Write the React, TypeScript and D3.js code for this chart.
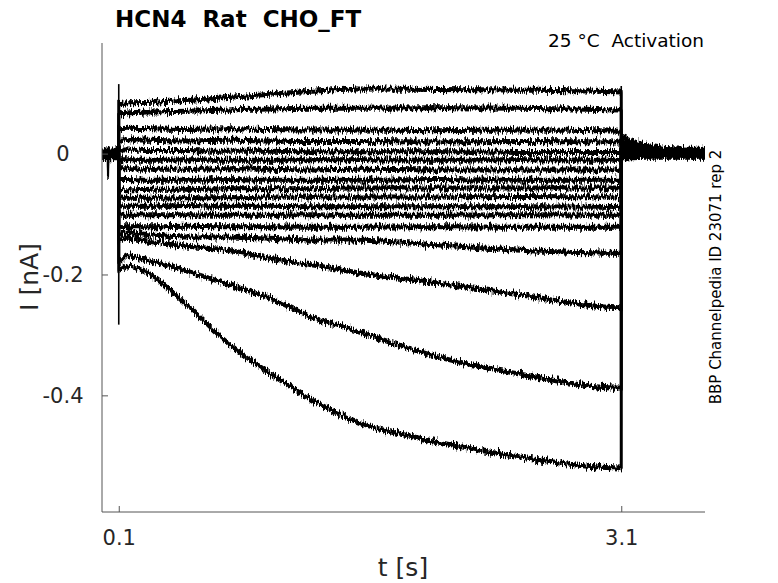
import React, { useEffect, useRef } from 'react';
import * as d3 from 'd3';

const pulseTimes = [0.1, 0.15, 0.3, 0.5, 0.75, 1.0, 1.25, 1.5, 2.0, 2.5, 3.1];

// currents (nA) during the 3 s activation step, top trace first
const pulseCurrents = [
  [0.082, 0.084, 0.085, 0.088, 0.093, 0.098, 0.103, 0.107, 0.106, 0.105, 0.102],
  [0.065, 0.067, 0.069, 0.070, 0.072, 0.074, 0.075, 0.075, 0.076, 0.075, 0.072],
  [0.041, 0.042, 0.041, 0.040, 0.041, 0.040, 0.039, 0.039, 0.038, 0.039, 0.037],
  [0.022, 0.023, 0.022, 0.021, 0.022, 0.021, 0.020, 0.020, 0.019, 0.020, 0.019],
  [0.006, 0.006, 0.005, 0.005, 0.004, 0.004, 0.003, 0.003, 0.003, 0.002, 0.002],
  [-0.010, -0.010, -0.011, -0.010, -0.011, -0.011, -0.010, -0.010, -0.011, -0.010, -0.011],
  [-0.025, -0.025, -0.026, -0.026, -0.025, -0.026, -0.027, -0.026, -0.027, -0.027, -0.027],
  [-0.043, -0.043, -0.044, -0.044, -0.043, -0.044, -0.044, -0.044, -0.043, -0.044, -0.044],
  [-0.060, -0.060, -0.059, -0.059, -0.058, -0.058, -0.058, -0.057, -0.057, -0.057, -0.057],
  [-0.073, -0.074, -0.074, -0.073, -0.073, -0.072, -0.072, -0.072, -0.072, -0.071, -0.072],
  [-0.086, -0.087, -0.087, -0.086, -0.087, -0.087, -0.088, -0.088, -0.088, -0.088, -0.089],
  [-0.101, -0.102, -0.101, -0.101, -0.102, -0.102, -0.101, -0.102, -0.102, -0.101, -0.102],
  [-0.120, -0.121, -0.121, -0.120, -0.121, -0.121, -0.122, -0.122, -0.121, -0.122, -0.122],
  [-0.133, -0.131, -0.135, -0.138, -0.138, -0.140, -0.143, -0.143, -0.151, -0.160, -0.165],
  [-0.143, -0.140, -0.146, -0.153, -0.160, -0.173, -0.184, -0.196, -0.214, -0.234, -0.255],
  [-0.179, -0.169, -0.179, -0.194, -0.216, -0.239, -0.270, -0.292, -0.336, -0.365, -0.388],
  [-0.193, -0.186, -0.203, -0.249, -0.313, -0.363, -0.407, -0.441, -0.477, -0.502, -0.520],
];

// holding current before the step (0 - 0.1 s), one per trace
const holdCurrents = [0.005, -0.004, 0.002, -0.006, 0.006, 0.0, -0.002, 0.004, -0.007, 0.003, -0.003, 0.001, 0.005, -0.005, 0.002, -0.001, 0.0];

// tail currents after the step
const tailTimes = [3.1, 3.15, 3.25, 3.4, 3.6];
const tailCurrents = [
  [-0.006, -0.006, -0.005, -0.005, -0.005],
  [-0.004, -0.004, -0.004, -0.003, -0.003],
  [-0.002, -0.002, -0.002, -0.002, -0.001],
  [0.0, 0.0, 0.0, 0.0, 0.0],
  [-0.007, -0.007, -0.006, -0.006, -0.006],
  [0.002, 0.002, 0.002, 0.001, 0.001],
  [-0.003, -0.003, -0.003, -0.003, -0.003],
  [0.004, 0.004, 0.003, 0.003, 0.003],
  [0.001, 0.001, 0.001, 0.001, 0.001],
  [0.006, 0.005, 0.004, 0.004, 0.004],
  [-0.001, -0.001, -0.001, -0.001, -0.001],
  [0.008, 0.007, 0.005, 0.004, 0.004],
  [0.011, 0.009, 0.007, 0.005, 0.005],
  [0.014, 0.012, 0.008, 0.006, 0.005],
  [0.018, 0.015, 0.010, 0.006, 0.006],
  [0.022, 0.018, 0.012, 0.007, 0.006],
  [0.027, 0.022, 0.014, 0.008, 0.007],
];

// artefacts: spike in the holding trace and capacitive transient at step onset
const holdSpikeTimes = [0.033, 0.036, 0.039];
const holdSpikeCurrents = [0.0, -0.04, 0.0];
const onsetTransient = [0.115, -0.283];

const xTicks = [0.1, 3.1];
const yTicks = [-0.4, -0.2, 0];

const W = 778;
const H = 583;

export default function App() {
  const svgRef = useRef<SVGSVGElement>(null);

  useEffect(() => {
    if (!svgRef.current) return;
    const svg = d3.select(svgRef.current);
    svg.selectAll('*').remove();

    const x = d3.scaleLinear().domain([0, 3.6]).range([102, 705]);
    const y = d3.scaleLinear().domain([-0.593, 0.183]).range([512, 43]);

    // jagged noise look for the recorded traces (vertical jitter only)
    const defs = svg.append('defs');
    const filt = defs.append('filter')
      .attr('id', 'noisy')
      .attr('filterUnits', 'userSpaceOnUse')
      .attr('x', 0).attr('y', 0).attr('width', W).attr('height', H);
    filt.append('feTurbulence')
      .attr('type', 'fractalNoise')
      .attr('baseFrequency', '1.6 0.15')
      .attr('numOctaves', 3)
      .attr('seed', 11)
      .attr('result', 'noise');
    filt.append('feColorMatrix')
      .attr('in', 'noise')
      .attr('type', 'matrix')
      .attr('values', '0 0 0 0 0.5  0 1 0 0 0  0 0 0 0 0  0 0 0 0 1')
      .attr('result', 'jit');
    filt.append('feDisplacementMap')
      .attr('in', 'SourceGraphic')
      .attr('in2', 'jit')
      .attr('scale', 10)
      .attr('xChannelSelector', 'R')
      .attr('yChannelSelector', 'G')
      .attr('result', 'disp');
    filt.append('feMorphology')
      .attr('in', 'disp')
      .attr('operator', 'dilate')
      .attr('radius', '0.4 0.9');

    const line = d3.line<[number, number]>()
      .x(d => x(d[0]))
      .y(d => y(d[1]))
      .curve(d3.curveMonotoneX);

    const traces = pulseCurrents.map((vals, i) => {
      const pts: [number, number][] = [];
      pts.push([0, holdCurrents[i]]);
      pts.push([0.0995, holdCurrents[i]]);
      pulseTimes.forEach((t, j) => pts.push([t, vals[j]]));
      tailTimes.forEach((t, j) => pts.push([j === 0 ? t + 0.0005 : t, tailCurrents[i][j]]));
      return pts;
    });

    const g = svg.append('g').attr('filter', 'url(#noisy)');

    g.selectAll('path.trace')
      .data(traces)
      .join('path')
      .attr('class', 'trace')
      .attr('d', d => line(d))
      .attr('fill', 'none')
      .attr('stroke', '#000')
      .attr('stroke-width', 3);

    // holding spike
    g.append('path')
      .attr('d', d3.line<number>()
        .x((_, i) => x(holdSpikeTimes[i]))
        .y(d => y(d))(holdSpikeCurrents))
      .attr('fill', 'none')
      .attr('stroke', '#000')
      .attr('stroke-width', 2);

    // onset transient
    svg.append('line')
      .attr('x1', x(0.1)).attr('x2', x(0.1))
      .attr('y1', y(onsetTransient[0])).attr('y2', y(onsetTransient[1]))
      .attr('stroke', '#000')
      .attr('stroke-width', 1.6);

    // step end edge
    const ends = pulseCurrents.map(v => v[v.length - 1]);
    svg.append('line')
      .attr('x1', x(3.1)).attr('x2', x(3.1))
      .attr('y1', y(d3.max(ends)! + 0.01)).attr('y2', y(d3.min(ends)! - 0.004))
      .attr('stroke', '#000')
      .attr('stroke-width', 1.6);

    // axes
    const axisColor = '#555';
    const xAxis = svg.append('g')
      .attr('transform', `translate(0,512)`)
      .call(d3.axisBottom(x).tickValues(xTicks).tickSize(-6).tickFormat(d => String(d)));
    xAxis.select('.domain').attr('stroke', axisColor).attr('d', `M${x(0)},0H705`);
    xAxis.selectAll('.tick line').attr('stroke', axisColor);
    xAxis.selectAll('.tick text')
      .attr('y', 18)
      .attr('fill', '#262626')
      .style('font-family', 'DejaVu Sans')
      .style('font-size', '21px');

    const yAxis = svg.append('g')
      .attr('transform', `translate(102,0)`)
      .call(d3.axisLeft(y).tickValues(yTicks).tickSize(-6).tickFormat(d => String(d)));
    yAxis.select('.domain').attr('stroke', axisColor).attr('d', `M0,43V512`);
    yAxis.selectAll('.tick line').attr('stroke', axisColor);
    yAxis.selectAll('.tick text')
      .attr('x', -39)
      .attr('text-anchor', 'middle')
      .attr('fill', '#262626')
      .style('font-family', 'DejaVu Sans')
      .style('font-size', '21px');

    // labels
    svg.append('text')
      .attr('x', 403).attr('y', 576)
      .attr('text-anchor', 'middle')
      .attr('fill', '#262626')
      .style('font-family', 'DejaVu Sans')
      .style('font-size', '25px')
      .text('t [s]');

    svg.append('text')
      .attr('transform', 'translate(38,277) rotate(-90)')
      .attr('text-anchor', 'middle')
      .attr('fill', '#262626')
      .style('font-family', 'DejaVu Sans')
      .style('font-size', '25px')
      .text('I [nA]');

    svg.append('text')
      .attr('x', 115).attr('y', 27)
      .style('font-family', 'DejaVu Sans')
      .style('font-weight', 'bold')
      .style('font-size', '23px')
      .style('white-space', 'pre')
      .text('HCN4  Rat  CHO_FT');

    svg.append('text')
      .attr('x', 704).attr('y', 47)
      .attr('text-anchor', 'end')
      .style('font-family', 'DejaVu Sans')
      .style('font-size', '18.5px')
      .style('white-space', 'pre')
      .text('25 °C  Activation');

    svg.append('text')
      .attr('transform', 'translate(721,277) rotate(-90)')
      .attr('text-anchor', 'middle')
      .style('font-family', 'DejaVu Sans')
      .style('font-size', '15px')
      .text('BBP Channelpedia ID 23071 rep 2');
  }, []);

  return (
    <div style={{ position: 'fixed', left: 0, top: 0, width: W, height: H, background: '#fff' }}>
      <svg ref={svgRef} width={W} height={H} />
    </div>
  );
}
